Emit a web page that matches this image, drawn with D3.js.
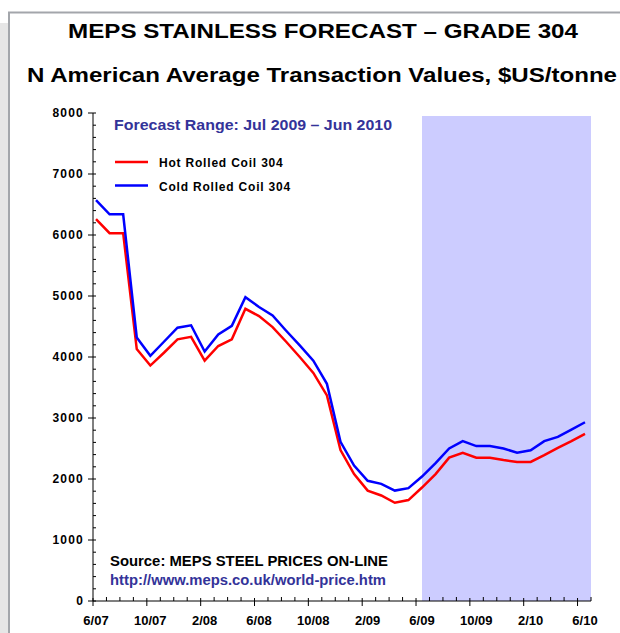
<!DOCTYPE html>
<html>
<head>
<meta charset="utf-8">
<script src="https://cdn.jsdelivr.net/npm/d3@7/dist/d3.min.js"></script>
<style>
body { margin: 0; background: #fff; }
svg { display: block; font-family: "Liberation Sans", Arial, sans-serif; font-weight: bold; }
</style>
</head>
<body>
<div class="chart"></div>
<script>
// months from 6/07 to 6/10, one value per month
let months = ['6/07','7/07','8/07','9/07','10/07','11/07','12/07','1/08','2/08','3/08','4/08','5/08',
  '6/08','7/08','8/08','9/08','10/08','11/08','12/08','1/09','2/09','3/09','4/09','5/09',
  '6/09','7/09','8/09','9/09','10/09','11/09','12/09','1/10','2/10','3/10','4/10','5/10','6/10']

let hotRolled = [6260,6030,6030,4130,3860,4070,4290,4330,3940,4180,4290,4790,
  4670,4490,4250,4000,3740,3370,2475,2080,1810,1730,1610,1655,
  1860,2080,2350,2430,2350,2350,2310,2280,2280,2390,2510,2620,2740]

let coldRolled = [6570,6340,6340,4320,4020,4250,4480,4520,4090,4370,4510,4980,
  4820,4680,4430,4190,3940,3560,2610,2220,1970,1920,1810,1850,
  2040,2260,2500,2620,2540,2540,2500,2430,2470,2620,2690,2810,2930]

let yTicks = [0,1000,2000,3000,4000,5000,6000,7000,8000]
let forecastStart = 24 // 6/09

let W = 620, H = 633

let svg = d3.select(".chart").append("svg")
  .attr("width", W).attr("height", H)

// page background + frame
svg.append("rect").attr("x",0).attr("y",23).attr("width",9).attr("height",H).attr("fill","#e6e6e6")
svg.append("rect").attr("x",9).attr("y",12.5).attr("width",700).attr("height",700)
  .attr("fill","white").attr("stroke","#a3a6ab").attr("stroke-width",2)

// scales
let x = d3.scaleLinear().domain([0, 36]).range([96, 585])        // data points + labels
let xTick = d3.scaleLinear().domain([0, 37]).range([93, 591])    // axis ticks
let y = d3.scaleLinear().domain([0, 8000]).range([601, 113])

// forecast shading
svg.append("rect")
  .attr("x", x(forecastStart)).attr("y", 116)
  .attr("width", xTick(37) - x(forecastStart)).attr("height", y(0) - 116)
  .attr("fill", "#ccccff")

// titles
svg.append("text").attr("x",323).attr("y",38).attr("text-anchor","middle")
  .attr("font-size",21).attr("textLength",510).attr("lengthAdjust","spacingAndGlyphs")
  .text("MEPS STAINLESS FORECAST – GRADE 304")
svg.append("text").attr("x",322).attr("y",82).attr("text-anchor","middle")
  .attr("font-size",21).attr("textLength",590).attr("lengthAdjust","spacingAndGlyphs")
  .text("N American Average Transaction Values, $US/tonne")

// y axis
let ax = 93
svg.append("line").attr("x1",ax).attr("x2",ax).attr("y1",y(8000)).attr("y2",y(0)).attr("stroke","black")
let minorY = d3.range(0, 8001, 200)
svg.selectAll(".ymin").data(minorY).join("line")
  .attr("x1", d => d % 1000 == 0 ? ax - 5 : ax).attr("x2", ax + 3)
  .attr("y1", d => y(d)).attr("y2", d => y(d)).attr("stroke","black")
svg.selectAll(".ylab").data(yTicks).join("text")
  .attr("x", 84).attr("y", d => y(d) + 4).attr("text-anchor","end")
  .attr("font-size",12).attr("letter-spacing",1.2)
  .text(d => d)

// x axis
let ay = y(0)
svg.append("line").attr("x1",ax).attr("x2",xTick(37)).attr("y1",ay).attr("y2",ay).attr("stroke","black")
svg.selectAll(".xt").data(d3.range(0, 38)).join("line")
  .attr("x1", d => xTick(d)).attr("x2", d => xTick(d))
  .attr("y1", d => d % 4 == 0 ? ay - 3 : ay - 4).attr("y2", d => d % 4 == 0 ? ay + 5 : ay)
  .attr("stroke","black")
svg.selectAll(".xlab").data(months.filter((m,i) => i % 4 == 0)).join("text")
  .attr("x", (d,i) => x(i*4)).attr("y", 625).attr("text-anchor","middle")
  .attr("font-size",13)
  .text(d => d)

// lines
let line = d3.line().x((d,i) => x(i)).y(d => y(d))
svg.append("path").datum(hotRolled).attr("d", line)
  .attr("fill","none").attr("stroke","#ff0000").attr("stroke-width",2.5)
svg.append("path").datum(coldRolled).attr("d", line)
  .attr("fill","none").attr("stroke","#0000ff").attr("stroke-width",2.5)

// forecast note
svg.append("text").attr("x",114).attr("y",130).attr("fill","#333399")
  .attr("font-size",14).attr("textLength",278).attr("lengthAdjust","spacingAndGlyphs")
  .text("Forecast Range: Jul 2009 – Jun 2010")

// legend
let legend = [{name:"Hot Rolled Coil 304", color:"#ff0000"}, {name:"Cold Rolled Coil 304", color:"#0000ff"}]
let lg = svg.selectAll(".lg").data(legend).join("g")
  .attr("transform", (d,i) => "translate(115," + (162 + i*23.5) + ")")
lg.append("line").attr("x1",0).attr("x2",33).attr("stroke", d => d.color).attr("stroke-width",2.5)
lg.append("text").attr("x",44).attr("y",5).attr("font-size",12).attr("letter-spacing",0.8)
  .text(d => d.name)

// source
svg.append("text").attr("x",110).attr("y",566).attr("font-size",14)
  .attr("textLength",278).attr("lengthAdjust","spacingAndGlyphs")
  .text("Source: MEPS STEEL PRICES ON-LINE")
svg.append("text").attr("x",110).attr("y",585).attr("font-size",14).attr("fill","#333399")
  .attr("textLength",276).attr("lengthAdjust","spacingAndGlyphs")
  .text("http://www.meps.co.uk/world-price.htm")
</script>
</body>
</html>
